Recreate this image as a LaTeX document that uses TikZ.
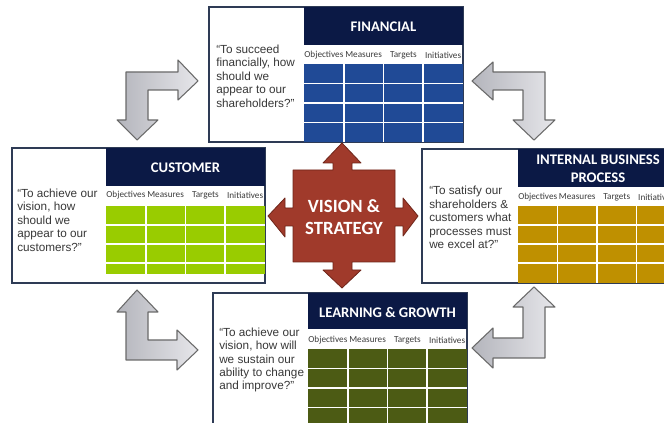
\documentclass[tikz,border=0pt]{standalone}
\usepackage{fontspec}
\setmainfont{Liberation Sans}
\newfontfamily\calibri{Carlito}
\usetikzlibrary{calc,positioning}
\definecolor{navy}{HTML}{0B1945}
\definecolor{finblue}{HTML}{204A96}
\definecolor{custgreen}{HTML}{99CC00}
\definecolor{intgold}{HTML}{BF9000}
\definecolor{learnolive}{HTML}{4C5B14}
\definecolor{redc}{HTML}{A03A2B}
\definecolor{reddark}{HTML}{6E2519}
\definecolor{cardline}{HTML}{2E3B55}
\definecolor{quotegray}{HTML}{383838}
\definecolor{labgray}{HTML}{3C3C3C}
\definecolor{arrowline}{HTML}{6A6A6A}
\definecolor{arrowdark}{HTML}{B4B5BC}
\definecolor{arrowlight}{HTML}{E6E6EA}

\begin{document}
\begin{tikzpicture}[x=0.75pt,y=-0.75pt,
    card/.style={draw=cardline,fill=white,line width=0.9pt},
    headtext/.style={text=white,font=\calibri\bfseries\fontsize{11}{13.5}\selectfont,align=center},
    quotetext/.style={anchor=west,inner sep=0pt,align=left,text=quotegray,font=\fontsize{8.8}{10.1}\selectfont},
    collabel/.style={inner sep=0pt,text=labgray,font=\calibri\fontsize{6.9}{7}\selectfont},
    gridline/.style={white,line width=1.2pt},
    bendarrow/.style={draw=arrowline,line width=0.8pt,left color=arrowdark,right color=arrowlight,line join=round}]
        \clip (0,0) rectangle (664,423);
        \fill[white] (0,0) rectangle (664,423);

        % grey turning arrows
        \draw[bendarrow] (126,72)--(178,72)--(178,60)--(198,81)--(178,100)--(178,90)--(148,90)--(148,120)--(158,120)--(137,140)--(117,120)--(126,120)--cycle;
        \draw[bendarrow] (545,72)--(493,72)--(493,62)--(472,81)--(493,100)--(493,90)--(523,90)--(523,120)--(513,120)--(534,140)--(555,120)--(545,120)--cycle;
        \draw[bendarrow] (137,290)--(158,312)--(148,312)--(148,340)--(177,340)--(177,330)--(198,350)--(177,370)--(177,360)--(126,360)--(126,312)--(117,312)--cycle;
        \draw[bendarrow] (534,287)--(555,307)--(545,307)--(545,358)--(493,358)--(493,368)--(472,348)--(493,328)--(493,338)--(523,338)--(523,307)--(513,307)--cycle;

        % financial
        \draw[card] (209,7) rectangle (463,142);
        \fill[navy] (304,7) rectangle (463,45);
        \node[headtext] (finhead) at (383.5,27) {FINANCIAL};
        \fill[finblue] (304,64) rectangle (463,142);
        \foreach \x in {343.75,383.5,423.25}{
            \draw[gridline] (\x,64)--(\x,142);
        }
        \foreach \y in {83.5,103,122.5}{
            \draw[gridline] (304,\y)--(463,\y);
        }
        \foreach \lab [count=\i] in {Objectives,Measures,Targets,Initiatives}{
            \node[collabel] (fincol\i) at ({304+39.75*(\i-0.5)},55) {\lab};
        }
        \node[quotetext] (finq) at (216,76) {“To succeed\\financially, how\\should we\\appear to our\\shareholders?”};

        % customer
        \draw[card] (12,148) rectangle (265,283);
        \fill[navy] (106,148) rectangle (265,186);
        \node[headtext] (custhead) at (185.5,168) {CUSTOMER};
        \fill[custgreen] (106,206) rectangle (265,274);
        \foreach \x in {145.75,185.5,225.25}{
            \draw[gridline] (\x,206)--(\x,274);
        }
        \foreach \y in {225,244,263}{
            \draw[gridline] (106,\y)--(265,\y);
        }
        \foreach \lab [count=\i] in {Objectives,Measures,Targets,Initiatives}{
            \node[collabel] (custcol\i) at ({106+39.75*(\i-0.5)},195) {\lab};
        }
        \node[quotetext] (custq) at (17,220) {“To achieve our\\vision, how\\should we\\appear to our\\customers?”};

        % internal business process
        \draw[card] (422,149) rectangle (680,283);
        \fill[navy] (518,149) rectangle (680,187);
        \node[headtext] (inthead) at (598,169) {INTERNAL BUSINESS\\PROCESS};
        \fill[intgold] (518,206) rectangle (680,283);
        \foreach \x in {557.5,597,636.5}{
            \draw[gridline] (\x,206)--(\x,283);
        }
        \foreach \y in {225,244,263}{
            \draw[gridline] (518,\y)--(680,\y);
        }
        \foreach \lab [count=\i] in {Objectives,Measures,Targets,Initiatives}{
            \node[collabel] (intcol\i) at ({518+39.5*(\i-0.5)},197) {\lab};
        }
        \node[quotetext] (intq) at (429,217.5) {“To satisfy our\\shareholders \&\\customers what\\processes must\\we excel at?”};

        % learning and growth
        \draw[card] (213,293) rectangle (467,430);
        \fill[navy] (308,293) rectangle (467,329);
        \node[headtext] (learnhead) at (387.5,312) {LEARNING \& GROWTH};
        \fill[learnolive] (308,349) rectangle (467,430);
        \foreach \x in {347.75,387.5,427.25}{
            \draw[gridline] (\x,349)--(\x,430);
        }
        \foreach \y in {368.5,388,407.5}{
            \draw[gridline] (308,\y)--(467,\y);
        }
        \foreach \lab [count=\i] in {Objectives,Measures,Targets,Initiatives}{
            \node[collabel] (learncol\i) at ({308+39.75*(\i-0.5)},340) {\lab};
        }
        \node[quotetext] (learnq) at (219,360) {“To achieve our\\vision, how will\\we sustain our\\ability to change\\and improve?”};

        % vision and strategy
        \filldraw[fill=redc,draw=reddark,line width=0.6pt,line join=round] (342,143)--(361,163)--(352,163)--(352,170)--(395,170)--(395,208)--(403,208)--(403,198)--(418,216)--(403,236)--(403,226)--(395,226)--(395,262)--(352,262)--(352,270)--(361,270)--(342,288)--(323,270)--(333,270)--(333,262)--(293,262)--(293,226)--(285,226)--(285,237)--(268,216)--(285,198)--(285,208)--(293,208)--(293,170)--(333,170)--(333,163)--(323,163)--cycle;
        \node[text=white,font=\calibri\bfseries\fontsize{14}{16}\selectfont,align=center] (vision) at (344,217) {VISION \&\\STRATEGY};
    \end{tikzpicture}
\end{document}
